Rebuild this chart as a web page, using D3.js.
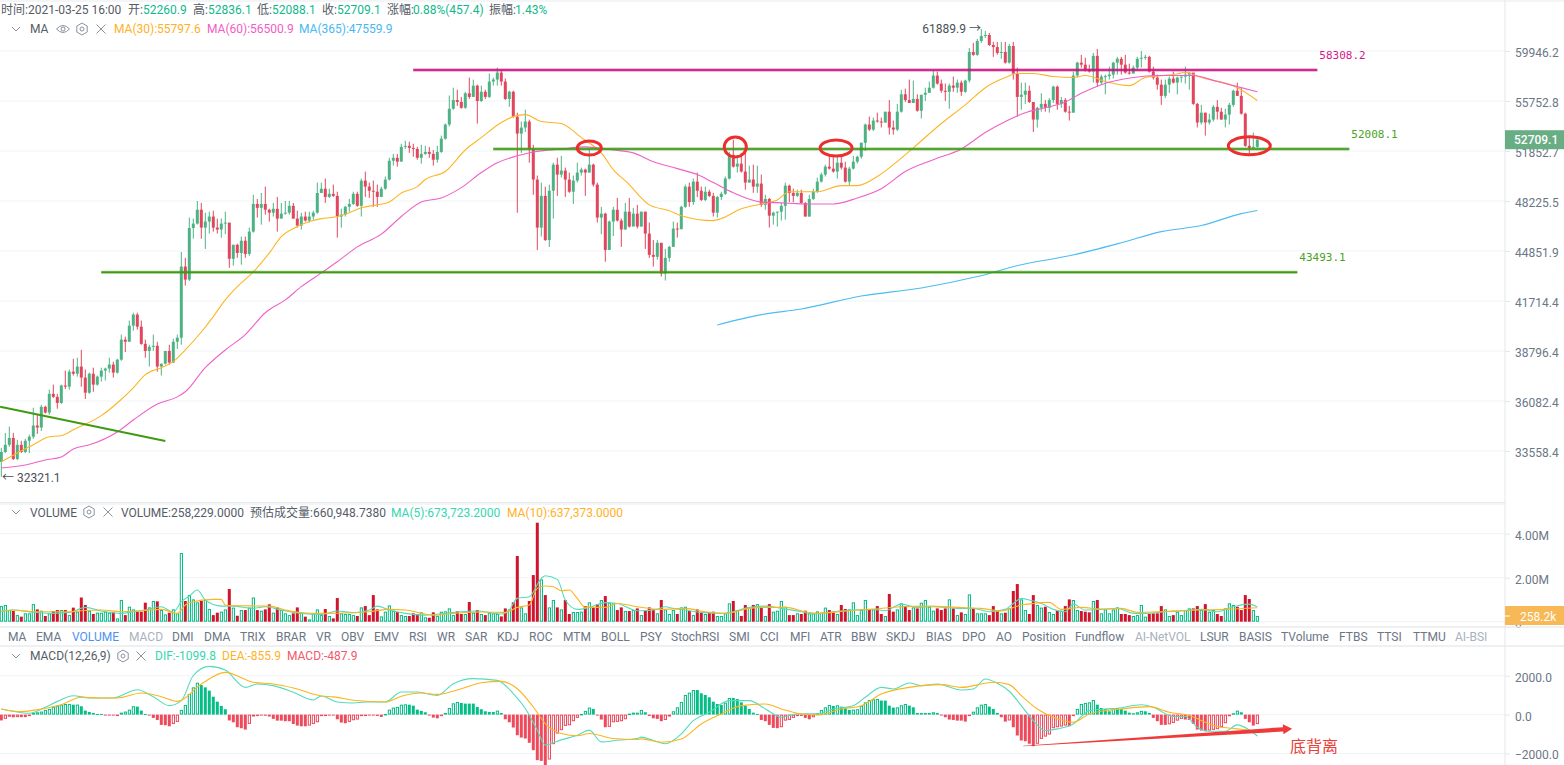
<!DOCTYPE html>
<html lang="en">
<head>
<meta charset="UTF-8">
<title>BTC MA / VOLUME / MACD</title>
<script src="https://d3js.org/d3.v7.min.js"></script>
<style>
    html, body { margin: 0; padding: 0; background: #fff; overflow: hidden; }
    svg { display: block; }
    text { font-family: Roboto, "Noto Sans CJK SC", sans-serif; font-size: 12px; }
    .mono { font-family: "DejaVu Sans Mono", monospace; font-size: 11px; }
    .axis text { fill: #6b7686; font-size: 12px; }
    .axis path { display: none; }
    .axis line { stroke: #e3e7eb; }
</style>
</head>
<body>
<svg id="chart" width="1564" height="765"></svg>
<script>
// candles, one value per candle
const firstOpen = 33030;
const closes = [
    33510,33860,34200,33170,33860,33510,34060,34260,34820,34720,
    35780,35480,36460,36300,35980,36900,36840,37650,37540,37930,
    37330,36520,37540,36950,37380,37710,37820,38040,37600,38310,
    39440,39320,40250,40900,40190,39200,38800,39030,39090,37930,
    38090,38800,38150,39320,39550,43850,43030,46370,46670,47620,
    46400,46810,47150,46400,46270,46670,46740,44350,45260,44725,
    45525,44660,46130,48020,47750,48020,47620,47415,47685,47010,
    47350,47415,47890,47010,46540,47150,46875,47150,47415,48790,
    49095,48510,48730,48585,47150,47280,47820,48020,48730,47890,
    49675,49240,48950,48880,48510,49095,49750,51125,51345,51055,
    52165,52243,52087,52009,51345,51635,51780,51635,51200,51780,
    52789,53880,55130,55830,55675,55207,56380,56085,57010,55753,
    56506,56085,57345,57513,58100,57345,55920,56506,54505,53180,
    53647,54115,52009,49750,46400,48585,45570,48950,50835,50110,
    50400,49750,48880,49675,50255,50475,50255,50835,49385,47080,
    47350,44920,46810,47620,46875,46270,47485,46470,47350,46470,
    47485,46000,44600,44475,45390,43410,44410,45120,46335,46300,
    47820,49240,48150,49600,48950,48300,48880,48585,47415,48510,
    48730,49820,51560,50690,50910,50330,49530,49750,49240,49460,
    47955,48370,47210,47415,47485,47890,49310,48790,48585,48790,
    48090,47150,48370,48880,49600,50110,50690,50545,50330,50980,
    50620,49600,50545,51055,51420,52477,53880,53490,54193,54115,
    54037,54895,53647,53490,54895,56300,55830,55595,55920,54970,
    56260,56420,56840,57850,57180,56590,56500,57010,56840,57260,
    56506,57430,59860,59610,60826,61266,61354,60470,60290,59780,
    59860,58940,60386,58016,56085,56260,56590,55675,54270,55207,
    55519,55207,55830,56926,55519,55830,54895,54817,57850,58940,
    58770,58350,58184,59527,57261,57764,57800,57930,58940,59275,
    58770,58100,58016,58520,59275,59360,59440,58184,57680,57090,
    56170,57090,57597,57261,57680,57764,57930,58100,55519,54040,
    54817,54040,54270,55285,54895,54270,54661,55441,56590,56170,
    54739,52243,52087,52165,52709
];
const highs = [
    33710,34447,34770,34450,34110,34060,34160,34360,35730,35370,
    35880,35830,36680,36950,36460,36950,37710,37770,38360,38420,
    38860,37770,37600,37870,37440,37870,37870,38420,38200,38360,
    39730,39610,40550,41010,41010,40550,39440,39150,39730,39320,
    38090,38800,39150,39490,39730,44790,44410,47080,47010,48225,
    48090,47415,47485,47550,47010,47010,47485,46670,45260,45325,
    45800,45800,46400,48660,48370,48790,49240,47690,48090,48510,
    48090,48225,48225,48090,47550,47415,47485,47485,47550,49530,
    49530,49820,49095,49385,48880,47690,47890,48370,48880,48880,
    49820,50330,49530,49675,49385,49240,49970,51345,51635,51635,
    52400,52633,52555,52400,52165,52320,52243,52165,51930,52243,
    53023,53960,56200,56840,56670,56085,56500,57680,57510,57090,
    57010,56670,58016,57680,58520,58350,57600,56590,56590,54817,
    54115,55050,54270,52320,50040,49530,49240,49385,50980,51345,
    51490,50620,50255,50040,50980,50620,50545,52009,50910,49530,
    47820,47415,46875,47820,48440,47010,48090,48440,47750,47955,
    47485,47485,46740,45570,45570,45325,44990,45190,46810,46740,
    47890,49385,49530,49820,50255,49240,49240,49020,48800,48585,
    48880,49970,51780,52710,51560,51710,51710,50765,50835,50765,
    50110,48660,48440,47485,47485,48090,49530,49385,49095,49020,
    49020,48150,48660,49095,49890,50255,50835,51490,51420,51560,
    51560,51055,50690,51490,51490,52477,53960,54505,54427,54817,
    54427,54895,55830,54193,55519,56670,56760,57510,57430,56300,
    56260,56840,57345,58270,58184,57510,57180,57180,57764,57510,
    57430,57510,60210,60650,61000,61890,61710,61530,60740,60740,
    60740,60740,60560,60740,58520,57260,57260,57010,55675,55285,
    56380,55830,55990,57010,57010,56085,55990,55360,58184,59020,
    59610,59360,58770,59780,60120,57930,57930,58600,59020,59440,
    59440,59610,58855,58690,59440,59946,59610,59527,58600,57930,
    57510,57510,57764,58184,57764,57764,58600,58100,58016,55600,
    55441,54817,54739,55441,55830,55207,55130,55600,56670,57260,
    56840,54817,52945,53257,52836
];
const lows = [
    32321,33460,33760,33120,33120,33460,33460,33460,34150,34400,
    34550,35430,35370,36240,35680,35930,36720,36680,37440,37380,
    36840,36190,36460,36570,36900,37110,37170,37600,37330,37540,
    38250,38740,39320,39960,40020,39150,38420,37930,38800,37650,
    37440,38040,38040,38150,38910,39150,42660,42944,45660,46600,
    45660,44990,46000,46130,46000,45730,45960,43770,43910,44410,
    43970,44410,44540,46060,47080,46600,47280,46810,47150,46130,
    47010,47280,47280,47010,46400,46270,46810,46740,46940,47350,
    48790,48090,48440,48510,45730,46400,47150,47485,47955,47820,
    47150,48510,48440,47820,47820,48510,49020,49680,50765,50690,
    51125,52009,51710,51420,51200,50910,51560,51345,50765,50980,
    51710,52710,53725,55050,55360,55130,55130,55920,56085,53960,
    55675,55920,56000,57010,57010,57010,55830,55285,54427,47415,
    51710,53300,50980,48660,44920,45800,45510,45120,47010,48585,
    49890,48510,48800,48020,49530,50040,48585,50255,49240,46740,
    45960,44160,44920,45840,46810,45120,46270,46400,47150,46335,
    46470,44990,44410,43850,44290,43220,42970,44160,45120,45730,
    46270,47750,47820,47955,48510,48225,48225,48510,47150,47080,
    48300,48660,49750,50620,50255,50255,49020,49530,48800,48800,
    47820,47620,46400,46600,46470,46875,46940,48150,48150,48510,
    48020,47150,47150,48300,48800,49530,49970,50475,50255,49820,
    50475,49530,49310,50475,50910,51270,51853,53380,53380,54037,
    53650,54037,53100,53100,53380,54817,55675,55595,55595,54895,
    54350,55753,56420,56760,57090,56420,55753,55130,56500,56420,
    56170,56420,57260,59527,59527,60650,61090,60386,59440,59610,
    59275,58855,58855,57510,54505,55050,55519,55595,53300,53650,
    54895,54895,54817,55595,55050,55207,54817,54193,54817,57680,
    58520,58184,58100,57260,56926,57090,56300,57510,57600,57930,
    57930,58016,57930,58100,58350,58520,59190,58100,57510,56670,
    55441,55990,56420,57180,56300,57260,57180,56670,55441,53650,
    53880,53023,53880,54115,54270,54270,53650,53880,55285,56170,
    54660,52165,51640,52087,52088
];

// moving averages, sampled at these candles
const ma30Index = [0,4,8,12,15,18,25,29,33,36,40,43,46,50,53,56,59,63,67,70,74,77,80,84,87,90,94,97,100,104,106,111,116,120,125,128,131,135,140,145,150,153,157,160,162,167,170,178,180,185,190,194,197,204,210,214,219,223,228,235,241,246,251,254,258,263,268,271,276,282,286,293,296,300,309,314];
const ma30Values = [33030,33460,33860,34260,34310,34610,35325,35980,36780,37490,37870,38200,38855,39880,40780,41780,42590,43510,44725,45800,46470,46810,47010,47150,47415,47750,47955,48150,48790,49240,49750,50330,51930,52870,54040,54505,54660,54115,53960,52870,51710,50475,49385,48440,47955,47550,47210,46875,47010,47685,48020,48300,48880,48880,49310,49310,49970,50835,52087,53960,55441,56840,57680,58016,58016,57764,57680,57850,57345,57010,57680,57930,58100,57680,56840,55798];
const ma60Index = [0,6,11,15,18,22,29,33,39,44,46,51,56,61,66,71,75,80,84,89,95,100,105,110,115,120,124,129,133,140,146,153,158,163,169,174,178,183,190,196,201,208,214,220,226,233,240,246,251,256,261,266,270,275,283,289,298,304,309,314];
const ma60Values = [32740,32886,33126,33270,33660,33860,34500,35100,35930,36300,36570,37870,38855,39730,41010,41780,42590,43450,44160,45120,45960,47150,48150,48440,49170,50255,50980,51490,51780,52009,52165,51930,51710,51055,50545,50110,49530,48800,48150,48090,48020,48020,48440,49095,50330,51200,52009,53257,54115,54817,55207,55675,56380,57090,57680,57850,57850,57345,56926,56501];
const ma365Index = [179,190,200,215,230,244,255,267,280,290,300,310,314];
const ma365Values = [40290,40900,41230,42020,42510,43220,43970,44540,45390,46130,46540,47350,47560];

// volume in thousands, one value per candle
const volumes = [
    710,760,530,485,300,230,380,380,800,560,
    500,260,380,485,530,530,530,300,640,455,
    1100,760,500,350,410,410,455,410,425,150,
    985,300,680,560,455,455,865,650,940,925,
    530,330,410,560,380,3120,940,1210,1015,880,
    955,985,575,300,410,455,560,1485,640,270,
    530,530,640,1100,530,500,560,790,410,650,
    530,380,300,380,650,425,230,105,380,560,
    300,575,260,150,1075,380,350,350,300,260,
    650,710,300,1210,560,240,455,740,500,440,
    300,260,260,380,350,425,200,180,425,270,
    455,470,605,300,470,350,350,895,410,530,
    350,300,410,380,350,240,605,560,880,2985,
    650,380,940,2120,4500,1925,1210,650,985,650,
    560,985,350,440,440,455,710,880,650,800,
    985,1165,865,830,530,650,485,485,530,605,
    300,500,650,560,380,985,560,350,530,350,
    650,680,485,300,560,410,350,440,455,260,
    260,380,835,940,530,260,760,650,760,800,
    640,260,800,455,500,940,680,300,300,380,
    350,500,380,380,470,410,640,530,455,350,
    760,575,560,880,300,530,985,560,560,710,
    350,260,1260,455,560,835,710,530,650,605,
    865,985,680,500,605,530,605,1015,605,300,
    425,350,1240,605,380,380,380,300,710,500,
    380,410,605,1395,1710,1015,530,350,1210,760,
    640,680,440,350,500,500,710,1015,985,530,
    485,455,425,940,985,380,560,380,560,650,
    350,350,300,260,300,760,230,350,380,380,
    710,560,260,300,455,300,530,605,605,710,
    530,800,455,530,350,260,605,835,760,680,
    530,1210,1030,530,258
];
const volMa5Index = [0,3,8,12,17,21,25,30,33,36,40,43,45,47,49,51,55,58,63,66,70,75,80,84,88,92,94,97,101,106,111,115,119,125,127,129,132,135,136,139,141,144,147,151,154,159,160,164,166,168,171,175,180,183,187,191,195,200,203,208,213,218,221,225,229,233,239,243,247,251,253,255,257,260,263,266,268,271,275,279,283,286,291,296,300,304,308,312,314];
const volMa5Values = [450,530,425,380,425,650,485,380,455,530,680,425,910,1165,1440,985,710,710,605,680,530,380,330,485,410,530,710,530,380,300,380,455,485,350,530,1060,1135,1970,2090,1925,985,560,650,865,830,500,500,560,680,605,530,425,380,455,650,710,605,455,350,455,530,560,500,800,650,680,605,605,455,560,830,1060,985,830,560,455,800,530,560,605,380,380,455,500,560,455,680,800,674];
const volMa10Index = [0,3,8,17,20,25,30,35,40,44,46,47,53,55,56,58,67,71,75,80,88,92,97,101,108,115,120,126,129,132,134,136,138,140,142,144,146,151,154,159,165,171,176,181,187,191,196,201,204,212,217,225,232,239,245,250,255,258,262,265,270,275,280,284,290,298,306,314];
const volMa10Values = [500,530,455,455,500,530,455,500,560,380,760,865,1015,1015,760,725,710,530,410,380,410,455,560,530,300,410,440,425,650,760,1515,1620,1590,1410,1440,1060,650,650,830,680,560,605,455,380,605,650,650,455,380,500,560,680,710,650,605,485,760,830,880,560,650,575,605,425,455,530,560,637];

// macd histogram, one value per candle
const macdHist = [
    -300,-220,-110,-140,-130,-130,-130,-50,85,120,
    155,240,290,410,460,510,545,550,510,515,
    430,205,135,85,35,35,-20,-30,-50,-20,
    100,155,255,430,410,205,35,-50,-170,-275,
    -530,-545,-600,-480,-375,240,495,1060,1400,1640,
    1520,1400,1230,920,665,445,275,-300,-395,-650,
    -700,-770,-480,-100,-50,-50,-60,-100,-220,-310,
    -310,-340,-340,-480,-565,-600,-600,-565,-480,-395,
    -70,-35,-35,-35,-240,-410,-445,-375,-290,-255,
    -35,-30,-30,-35,-70,-120,35,255,360,395,
    510,530,510,460,255,190,120,-20,-155,-190,
    -50,85,340,580,650,600,565,565,565,395,
    275,170,135,135,205,85,-240,-395,-665,-1060,
    -1180,-1230,-1450,-1830,-2340,-2380,-2600,-2310,-1520,-975,
    -800,-580,-550,-340,-170,35,190,360,290,-20,
    -255,-650,-630,-395,-375,-340,-240,50,100,100,
    240,120,-70,-190,-220,-340,-275,-100,170,375,
    650,1010,1130,1265,1265,1095,1010,890,665,545,
    495,615,855,855,800,630,460,290,100,35,
    -275,-340,-530,-685,-700,-650,-310,-275,-170,-50,
    -70,-170,-240,-135,70,240,375,495,445,480,
    410,375,240,255,275,460,630,750,785,800,
    720,720,460,360,375,480,545,460,375,85,
    85,85,85,120,85,-50,-135,-255,-275,-310,
    -310,-360,-50,150,375,510,545,410,290,85,
    -135,-360,-300,-650,-1075,-1330,-1370,-1500,-1625,-1500,
    -1250,-1130,-1025,-700,-650,-615,-565,-600,-50,290,
    545,600,630,750,510,340,290,170,340,340,
    290,205,100,70,120,190,170,85,-170,-340,
    -530,-530,-500,-430,-310,-220,-255,-275,-480,-770,
    -820,-855,-820,-785,-750,-650,-445,-85,70,205,
    120,-220,-395,-565,-488
];
const difIndex = [0,3,7,11,14,18,22,28,34,38,42,45,48,52,56,61,64,68,73,78,80,84,88,91,96,100,104,109,113,118,124,128,131,134,136,140,144,147,150,154,159,160,163,166,170,173,177,182,187,191,195,199,204,208,213,216,220,223,227,230,234,240,243,246,249,252,255,258,261,264,268,272,276,279,285,288,293,296,299,302,306,309,312,314];
const difValues = [290,170,70,375,680,970,855,855,1280,920,460,715,2010,2480,2290,1400,1570,1490,1145,750,960,650,600,650,650,1160,1160,990,1590,1850,1760,1080,310,-800,-1570,-1300,-1060,-800,-1400,-1320,-1230,-1160,-1330,-1500,-990,-310,120,720,720,290,-135,35,35,290,460,890,1400,1320,1625,1490,1570,1265,1320,1830,1610,1200,460,-310,-820,-735,-480,205,290,325,510,375,-100,-100,-650,-855,-855,-530,-790,-1100];
const deaIndex = [0,5,10,15,20,25,29,35,40,44,50,56,63,68,73,80,83,88,96,100,105,109,115,120,125,129,133,136,140,144,147,153,159,160,165,170,175,180,185,191,195,199,204,210,215,220,227,231,235,240,248,252,255,259,263,268,272,276,280,287,292,297,301,304,309,314];
const deaValues = [290,155,290,510,890,855,855,1110,920,680,1570,2170,1660,1570,1370,960,910,740,650,940,1110,1040,1330,1640,1710,1330,390,-460,-975,-1090,-975,-1230,-1280,-1250,-1420,-1250,-480,35,460,545,290,70,-20,290,460,1060,1400,1505,1540,1400,1660,1540,975,290,-135,-390,35,205,290,410,120,-50,-390,-615,-735,-856];

// axis ticks
const priceTicks = [59946.2,55752.8,51852.7,48225.5,44851.9,41714.4,38796.4,36082.4,33558.4];
const volumeTicks = [4000,2000,0];
const macdTicks = [2000,0,-2000];

// hand drawn levels on the chart
const levelPrices = [58308.2,52008.1,43493.1];
const levelStart = [103,123,25];
const levelEnd = [329,337,324];
const levelColors = ["#c9127f","#3f9a12","#3f9a12"];
const trendIndex = [-0.3,41];
const trendPrices = [35780,34050];
const circleIndex = [147,183.5,208.7,312];
const circlePrices = [52080,52160,52080,52240];
const circleRx = [12,11,16,21];
const circleRy = [7,10,8,9];

// tabs between the panes
const tabNames = ["MA","EMA","VOLUME","MACD","DMI","DMA","TRIX","BRAR","VR","OBV","EMV","RSI","WR","SAR","KDJ","ROC","MTM","BOLL","PSY","StochRSI","SMI","CCI","MFI","ATR","BBW","SKDJ","BIAS","DPO","AO","Position","Fundflow","AI-NetVOL","LSUR","BASIS","TVolume","FTBS","TTSI","TTMU","AI-BSI"];
const tabLefts = [8,36,72,129,172,204,240,276,316,341,374,409,437,465,497,529,563,601,640,671,729,760,790,820,851,886,926,962,996,1022,1075,1135,1200,1239,1281,1339,1377,1413,1455];

const opens = [firstOpen].concat(closes.slice(0, -1));

const svg = d3.select("#chart");
const axisX = 1505;
const green = "#4db384";
const red = "#e2465c";
const grey = "#555c66";
const valueGreen = "#0fb98c";

const x = d3.scaleLinear().domain([0, 314]).range([1.3, 1257.3]);
const yPrice = d3.scaleLog().domain([33558.4, 59946.2]).range([451, 51]);
const yVolume = d3.scaleLinear().domain([0, 4000]).range([621.7, 533.7]);
const yMacd = d3.scaleLinear().domain([-2000, 2000]).range([753.5, 675.7]);

// grid + axes
function gridAndAxis(scale, ticks, format) {
    svg.append("g").selectAll("line").data(ticks).enter().append("line")
        .attr("x1", 0).attr("x2", axisX)
        .attr("y1", d => scale(d)).attr("y2", d => scale(d))
        .attr("stroke", "#f1f3f5");
    const axis = d3.axisRight(scale).tickValues(ticks).tickSize(5).tickPadding(5).tickFormat(format);
    const g = svg.append("g").attr("class", "axis").attr("transform", `translate(${axisX},0)`).call(axis);
    g.selectAll("text").attr("dy", "0.45em");
}
gridAndAxis(yPrice, priceTicks, d3.format(".1f"));
gridAndAxis(yVolume, volumeTicks, d => d ? (d / 1000).toFixed(2) + "M" : "0");
gridAndAxis(yMacd, macdTicks, d3.format(".1f"));

// frame lines
const seps = [[0, 1564, 1], [0, 1505, 502.5], [0, 1505, 504], [0, 1564, 627], [0, 1564, 646]];
svg.append("g").selectAll("line").data(seps).enter().append("line")
    .attr("x1", d => d[0]).attr("x2", d => d[1]).attr("y1", d => d[2]).attr("y2", d => d[2])
    .attr("stroke", "#e8ebee").attr("stroke-width", d => d[2] > 600 ? 1.5 : 1);
svg.append("line").attr("x1", axisX).attr("x2", axisX).attr("y1", 0).attr("y2", 765)
    .attr("stroke", "#e3e7eb");

// candles
const candles = svg.append("g");
const isUp = i => closes[i] >= opens[i];
candles.selectAll(".wick").data(closes).enter().append("line")
    .attr("x1", (d, i) => x(i)).attr("x2", (d, i) => x(i))
    .attr("y1", (d, i) => yPrice(highs[i])).attr("y2", (d, i) => yPrice(lows[i]))
    .attr("stroke", (d, i) => isUp(i) ? green : red);
candles.selectAll(".body").data(closes).enter().append("rect")
    .attr("x", (d, i) => x(i) - 1.5).attr("width", 3)
    .attr("y", (d, i) => yPrice(Math.max(opens[i], d)))
    .attr("height", (d, i) => Math.max(1, Math.abs(yPrice(opens[i]) - yPrice(d))))
    .attr("fill", (d, i) => isUp(i) ? green : red);

// sampled lines
function drawLine(index, values, scale, color, width) {
    const line = d3.line().x(d => x(d[0])).y(d => scale(d[1])).curve(d3.curveMonotoneX);
    svg.append("path").datum(index.map((d, i) => [d, values[i]]))
        .attr("d", line).attr("fill", "none").attr("stroke", color).attr("stroke-width", width || 1.1);
}
drawLine(ma30Index, ma30Values, yPrice, "#fdb525");
drawLine(ma60Index, ma60Values, yPrice, "#ef62c8");
drawLine(ma365Index, ma365Values, yPrice, "#4cbcf0");

// levels
levelPrices.forEach((p, k) => {
    const y = yPrice(p);
    svg.append("line").attr("x1", x(levelStart[k])).attr("x2", x(levelEnd[k])).attr("y1", y).attr("y2", y)
        .attr("stroke", levelColors[k]).attr("stroke-width", 3).attr("opacity", 0.55);
    svg.append("line").attr("x1", x(levelStart[k])).attr("x2", x(levelEnd[k])).attr("y1", y).attr("y2", y)
        .attr("stroke", levelColors[k]).attr("stroke-width", 1.5);
    svg.append("text").attr("class", "mono").attr("x", x(levelEnd[k]) + 2).attr("y", y - 11)
        .attr("fill", k ? "#4aa31e" : "#d6188a").text(p.toFixed(1));
});

// falling trend line bottom left
const trendLine = d3.line().x(d => x(d[0])).y(d => yPrice(d[1]));
svg.append("path").datum(trendIndex.map((d, i) => [d, trendPrices[i]])).attr("d", trendLine)
    .attr("stroke", "#3f9a12").attr("stroke-width", 2).attr("fill", "none");

// red circles
svg.append("g").selectAll("ellipse").data(circleIndex).enter().append("ellipse")
    .attr("cx", d => x(d)).attr("cy", (d, i) => yPrice(circlePrices[i]))
    .attr("rx", (d, i) => circleRx[i]).attr("ry", (d, i) => circleRy[i])
    .attr("fill", "none").attr("stroke", "#ee2e2e").attr("stroke-width", 3);

// high / low marks
svg.append("text").attr("x", x(245) - 59).attr("y", 33).attr("fill", "#4a4f57").text("61889.9 →");
svg.append("text").attr("x", 2).attr("y", 481.5).attr("fill", "#4a4f57").text("← 32321.1");

// last price tag
const tag = svg.append("g");
tag.append("rect").attr("x", axisX).attr("y", yPrice(52709.1) - 9.5).attr("width", 59).attr("height", 19).attr("fill", "#69ad84");
tag.append("text").attr("x", 1514).attr("y", yPrice(52709.1) + 4.5).attr("fill", "#fff").attr("font-weight", 500).text("52709.1");

// volume
const volumeBars = svg.append("g");
function drawBar(g, i, y0, y1, color, hollow) {
    const top = Math.min(y0, y1), h = Math.max(1, Math.abs(y1 - y0));
    if (hollow) {
        g.append("rect").attr("x", x(i) - 1).attr("y", top + 0.5).attr("width", 2.2).attr("height", Math.max(0.5, h - 1))
            .attr("fill", "#fff").attr("stroke", color).attr("stroke-width", 1);
    } else {
        g.append("rect").attr("x", x(i) - 1.5).attr("y", top).attr("width", 3).attr("height", h).attr("fill", color);
    }
}
volumes.forEach((v, i) => {
    const up = isUp(i);
    drawBar(volumeBars, i, yVolume(0), yVolume(v), up ? "#06bd86" : "#d0142c", up);
});
drawLine(volMa5Index, volMa5Values, yVolume, "#55dbbd");
drawLine(volMa10Index, volMa10Values, yVolume, "#fcb51f");

svg.append("rect").attr("x", axisX).attr("y", 606).attr("width", 59).attr("height", 19).attr("fill", "#f7b955");
svg.append("line").attr("x1", axisX).attr("x2", axisX + 5).attr("y1", yVolume(258)).attr("y2", yVolume(258)).attr("stroke", "#fff");
svg.append("text").attr("x", 1520).attr("y", 620.5).attr("fill", "#fff").text("258.2k");

// macd: solid when the bar moves away from the previous one downward, hollow when it rises
const macdBars = svg.append("g");
macdHist.forEach((v, i) => {
    const hollow = i > 0 && v > macdHist[i - 1];
    drawBar(macdBars, i, yMacd(0), yMacd(v), v >= 0 ? "#06bd86" : "#ef4a5c", hollow);
});
drawLine(difIndex, difValues, yMacd, "#55dbbd");
drawLine(deaIndex, deaValues, yMacd, "#fcb51f");

// red arrow on the macd pane
const arrowTail = [x(255.5), yMacd(-1600)];
const arrowTip = [x(322.7), yMacd(-730)];
const dx = arrowTip[0] - arrowTail[0], dy = arrowTip[1] - arrowTail[1];
const len = Math.hypot(dx, dy), ux = dx / len, uy = dy / len;
const at = (a, b) => [arrowTail[0] + ux * a - uy * b, arrowTail[1] + uy * a + ux * b];
svg.append("polygon").attr("fill", "#f03a3a").attr("points", [
    at(0, 0), at(len - 9, -2.2), at(len - 9, -5), at(len, 0), at(len - 9, 5), at(len - 9, 2.2), at(0, 0.6)
].join(" "));
svg.append("text").attr("x", 1290).attr("y", 751.5).attr("fill", "#e8413a").style("font-size", "16px").text("底背离");

// legends
function legend(items, y) {
    items.forEach(d => {
        svg.append("text").attr("x", d[0]).attr("y", y).attr("fill", d[2]).text(d[1]);
    });
}
const info = [[1, "时间:2021-03-25 16:00"], [128, "开:"], [193, "高:"], [257, "低:"], [322, "收:"], [387, "涨幅:"], [489, "振幅:"]];
const infoValues = [[143, "52260.9"], [208, "52836.1"], [272, "52088.1"], [337, "52709.1"], [413, "0.88%(457.4)"], [515, "1.43%"]];
legend(info.map(d => [d[0], d[1], grey]), 14);
legend(infoValues.map(d => [d[0], d[1], valueGreen]), 14);
legend([[30, "MA", grey], [114, "MA(30):55797.6", "#ffb11f"], [207, "MA(60):56500.9", "#f25dc5"], [299, "MA(365):47559.9", "#48b9f0"]], 33);
legend([[30, "VOLUME", grey], [121, "VOLUME:258,229.0000", grey], [250, "预估成交量:660,948.7380", grey], [391, "MA(5):673,723.2000", "#35d6b0"], [507, "MA(10):637,373.0000", "#ffb11f"]], 517);
legend([[30, "MACD(12,26,9)", grey], [155, "DIF:-1099.8", "#35d6b0"], [222, "DEA:-855.9", "#ffb11f"], [287, "MACD:-487.9", "#f0596a"]], 660);

// tabs
const tabColor = n => n === "VOLUME" ? "#4c93f0" : (n === "MACD" || n === "AI-NetVOL" || n === "AI-BSI") ? "#a9b1bc" : "#6b7686";
svg.append("g").selectAll("text").data(tabNames).enter().append("text")
    .attr("x", (d, i) => tabLefts[i]).attr("y", 641).attr("fill", tabColor).text(d => d);

// small icons
const iconStroke = "#8a929c";
function icon(path, cx, cy) {
    svg.append("path").attr("d", path).attr("transform", `translate(${cx},${cy})`)
        .attr("fill", "none").attr("stroke", iconStroke);
}
const chevron = "M-4,-2L0,2L4,-2";
const cross = "M-4.5,-4.5L4.5,4.5M4.5,-4.5L-4.5,4.5";
const hex = "M0,-6L5.2,-3L5.2,3L0,6L-5.2,3L-5.2,-3ZM2,0A2,2 0 1 1 -2,0A2,2 0 1 1 2,0";
const eye = "M-6.5,0Q0,-7 6.5,0Q0,7 -6.5,0ZM2,0A2,2 0 1 1 -2,0A2,2 0 1 1 2,0";
icon(chevron, 16, 29); icon(eye, 63, 29); icon(hex, 82, 29); icon(cross, 101, 29);
icon(chevron, 16, 512); icon(hex, 89, 512); icon(cross, 108, 512);
icon(chevron, 16, 656); icon(hex, 123, 656); icon(cross, 141, 656);
</script>
</body>
</html>
